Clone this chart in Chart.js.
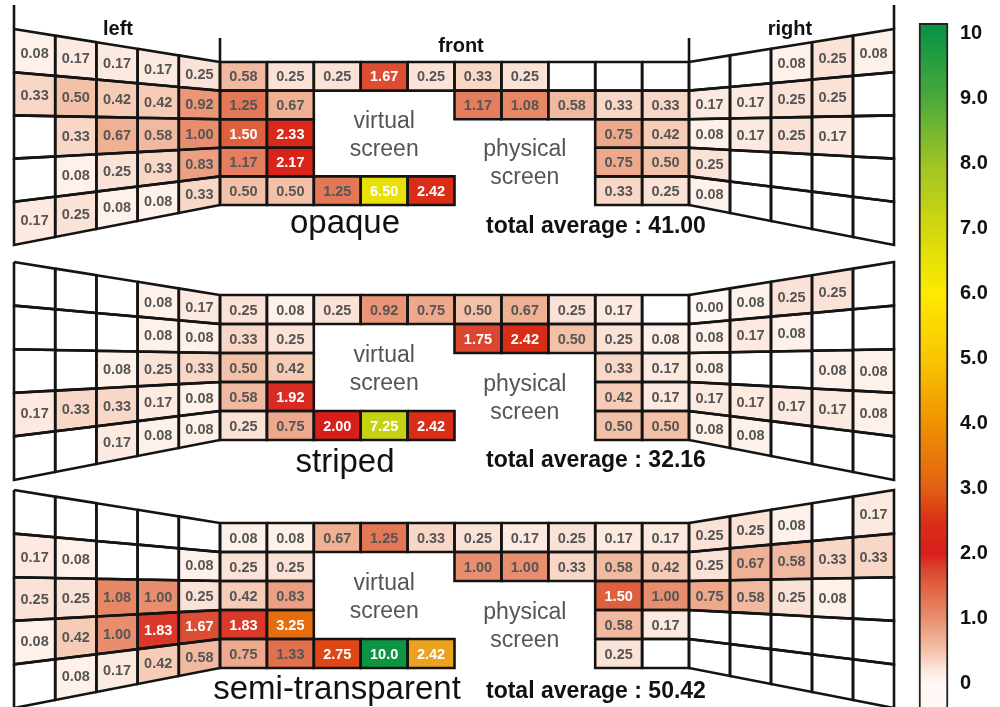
<!DOCTYPE html>
<html>
<head>
<meta charset="utf-8">
<script src="https://cdn.jsdelivr.net/npm/chart.js@4.4.1/dist/chart.umd.min.js"></script>
<style>
html,body{margin:0;padding:0;background:#fff;}
#wrap{position:relative;width:1000px;height:707px;overflow:hidden;}
#room{position:absolute;left:0;top:0;}
#bar{position:absolute;left:900px;top:0;}
</style>
</head>
<body>
<div id="wrap">
  <canvas id="room" width="1000" height="707"></canvas>
  <canvas id="bar" width="100" height="707"></canvas>
</div>
<script>
'use strict';
const _ = null;        // empty cell
const S = 'screen';    // covered by a screen

const panels = ['opaque', 'striped', 'semi-transparent'];
const totals = [41.00, 32.16, 50.42];
const wallNames = ['left', 'front', 'right'];
const screenNames = [['virtual', 'screen'], ['physical', 'screen']];
const colorTicks = [0, 1, 2, 3, 4, 5, 6, 7, 8, 9, 10];

// rows top -> bottom, columns as seen left -> right
const opaqueLeft = [
  [0.08, 0.17, 0.17, 0.17, 0.25],
  [0.33, 0.50, 0.42, 0.42, 0.92],
  [_,    0.33, 0.67, 0.58, 1.00],
  [_,    0.08, 0.25, 0.33, 0.83],
  [0.17, 0.25, 0.08, 0.08, 0.33]
];
const opaqueFront = [
  [0.58, 0.25, 0.25, 1.67, 0.25, 0.33, 0.25, _, _, _],
  [1.25, 0.67, S, S, S, 1.17, 1.08, 0.58, 0.33, 0.33],
  [1.50, 2.33, S, S, S, S, S, S, 0.75, 0.42],
  [1.17, 2.17, S, S, S, S, S, S, 0.75, 0.50],
  [0.50, 0.50, 1.25, 6.50, 2.42, S, S, S, 0.33, 0.25]
];
const opaqueRight = [
  [_,    _,    0.08, 0.25, 0.08],
  [0.17, 0.17, 0.25, 0.25, _],
  [0.08, 0.17, 0.25, 0.17, _],
  [0.25, _,    _,    _,    _],
  [0.08, _,    _,    _,    _]
];

const stripedLeft = [
  [_,    _,    _,    0.08, 0.17],
  [_,    _,    _,    0.08, 0.08],
  [_,    _,    0.08, 0.25, 0.33],
  [0.17, 0.33, 0.33, 0.17, 0.08],
  [_,    _,    0.17, 0.08, 0.08]
];
const stripedFront = [
  [0.25, 0.08, 0.25, 0.92, 0.75, 0.50, 0.67, 0.25, 0.17, _],
  [0.33, 0.25, S, S, S, 1.75, 2.42, 0.50, 0.25, 0.08],
  [0.50, 0.42, S, S, S, S, S, S, 0.33, 0.17],
  [0.58, 1.92, S, S, S, S, S, S, 0.42, 0.17],
  [0.25, 0.75, 2.00, 7.25, 2.42, S, S, S, 0.50, 0.50]
];
const stripedRight = [
  [0.00, 0.08, 0.25, 0.25, _],
  [0.08, 0.17, 0.08, _,    _],
  [0.08, _,    _,    0.08, 0.08],
  [0.17, 0.17, 0.17, 0.17, 0.08],
  [0.08, 0.08, _,    _,    _]
];

const semiLeft = [
  [_,    _,    _,    _,    _],
  [0.17, 0.08, _,    _,    0.08],
  [0.25, 0.25, 1.08, 1.00, 0.25],
  [0.08, 0.42, 1.00, 1.83, 1.67],
  [_,    0.08, 0.17, 0.42, 0.58]
];
const semiFront = [
  [0.08, 0.08, 0.67, 1.25, 0.33, 0.25, 0.17, 0.25, 0.17, 0.17],
  [0.25, 0.25, S, S, S, 1.00, 1.00, 0.33, 0.58, 0.42],
  [0.42, 0.83, S, S, S, S, S, S, 1.50, 1.00],
  [1.83, 3.25, S, S, S, S, S, S, 0.58, 0.17],
  [0.75, 1.33, 2.75, 10.0, 2.42, S, S, S, 0.25, _]
];
const semiRight = [
  [0.25, 0.25, 0.08, _,    0.17],
  [0.25, 0.67, 0.58, 0.33, 0.33],
  [0.75, 0.58, 0.25, 0.08, _],
  [_,    _,    _,    _,    _],
  [_,    _,    _,    _,    _]
];

const panelWalls = [
  [opaqueLeft, opaqueFront, opaqueRight],
  [stripedLeft, stripedFront, stripedRight],
  [semiLeft, semiFront, semiRight]
];

// ---- layout (reference pixel space) ----
const FRONT_X = [220, 689];
const LEFT_X = [14, 220];
const RIGHT_X = [689, 894];
const FRONT_Y = [[62, 205], [295, 440], [523, 668]];
const RISE = 33, DROP = 40;
const VS = {c0: 2, c1: 5, r0: 1, r1: 4};
const PS = {c0: 5, c1: 8, r0: 2, r1: 5};
const TITLE_X = [345, 345, 337];
const TITLE_Y = [233, 472, 699];
const TOTAL_X = 486;
const TOTAL_Y = [233, 467, 698];
const FONT = '"Liberation Sans", Arial, sans-serif';

// ---- colour scale ----
const cmapStops = [
  [0, '#fff8f4'], [0.25, '#fbe2d6'], [0.5, '#f3c1a8'], [1, '#e88e6e'],
  [1.5, '#df603e'], [1.75, '#db4630'], [2, '#d81e1a'], [2.5, '#da3018'],
  [3, '#e36013'], [4, '#ef9200'], [5, '#f9c600'], [6, '#fdea00'],
  [7, '#d2d70e'], [8, '#9dc424'], [9, '#4aa93a'], [10, '#0d9543']
];
const cellColorOverride = {'2/front/4/4': '#eca21f'};

function hex(c){ return [1,3,5].map(i => parseInt(c.slice(i, i+2), 16)); }
function cmap(v){
  v = Math.max(0, Math.min(10, v));
  for(let i=1;i<cmapStops.length;i++){
    const [v1, c1] = cmapStops[i];
    if(v <= v1){
      const [v0, c0] = cmapStops[i-1];
      const t = (v - v0) / (v1 - v0);
      const a = hex(c0), b = hex(c1);
      return 'rgb(' + a.map((x,k) => Math.round(x + (b[k]-x)*t)).join(',') + ')';
    }
  }
  return cmapStops[cmapStops.length-1][1];
}

function wallGeom(p, w){
  const [t, b] = FRONT_Y[p];
  if(w === 0) return {xs: LEFT_X, eL: [t-RISE, b+DROP], eR: [t, b], cols: 5};
  if(w === 2) return {xs: RIGHT_X, eL: [t, b], eR: [t-RISE, b+DROP], cols: 5};
  return {xs: FRONT_X, eL: [t, b], eR: [t, b], cols: 10};
}
function gp(g, u, v){
  const k = u / g.cols;
  const top = g.eL[0] + (g.eR[0]-g.eL[0])*k;
  const bot = g.eL[1] + (g.eR[1]-g.eL[1])*k;
  return {x: g.xs[0] + (g.xs[1]-g.xs[0])*k, y: top + (bot-top)*v/5};
}

const cells = [];
panelWalls.forEach((walls, p) => {
  walls.forEach((grid, w) => {
    const g = wallGeom(p, w);
    grid.forEach((row, r) => row.forEach((val, c) => {
      if(val === S) return;
      const color = val === null ? '#ffffff'
        : (cellColorOverride[p+'/'+wallNames[w]+'/'+r+'/'+c] || cmap(val));
      cells.push({
        value: val, color,
        pts: [gp(g,c,r), gp(g,c+1,r), gp(g,c+1,r+1), gp(g,c,r+1), gp(g,c,r)],
        center: gp(g, c+0.5, r+0.5)
      });
    }));
  });
});

const datasets = cells.map(cell => ({
  data: cell.pts,
  showLine: true,
  fill: 'shape',
  backgroundColor: cell.color,
  borderColor: '#141414',
  borderWidth: 2.6,
  borderJoinStyle: 'miter',
  pointRadius: 0,
  pointHoverRadius: 0
}));
// room corner lines above the first panel
const t0 = FRONT_Y[0][0];
[[LEFT_X[0], 5, t0-RISE], [FRONT_X[0], 38, t0], [FRONT_X[1], 38, t0], [RIGHT_X[1], 5, t0-RISE]]
  .forEach(([x, y0, y1]) => datasets.push({
    data: [{x, y: y0}, {x, y: y1}], showLine: true, fill: false,
    borderColor: '#141414', borderWidth: 2.6, pointRadius: 0
  }));

const labelPlugin = {
  id: 'labels',
  afterDatasetsDraw(chart){
    const {ctx, scales: {x, y}} = chart;
    const X = v => x.getPixelForValue(v), Y = v => y.getPixelForValue(v);
    ctx.save();
    ctx.textAlign = 'center';
    ctx.textBaseline = 'middle';
    ctx.font = 'bold 14.5px ' + FONT;
    cells.forEach(cell => {
      if(cell.value === null) return;
      ctx.fillStyle = cell.value >= 1.4 ? '#ffffff' : '#555555';
      const txt = cell.value >= 10 ? cell.value.toFixed(1) : cell.value.toFixed(2);
      ctx.fillText(txt, X(cell.center.x), Y(cell.center.y) + 1);
    });

    ctx.textBaseline = 'alphabetic';
    // wall names
    ctx.fillStyle = '#111';
    ctx.font = 'bold 20px ' + FONT;
    ctx.fillText(wallNames[0], X(118), Y(35));
    ctx.fillText(wallNames[1], X(461), Y(52));
    ctx.fillText(wallNames[2], X(790), Y(35));

    panels.forEach((name, p) => {
      const g = wallGeom(p, 1);
      // screens
      ctx.fillStyle = '#555';
      ctx.font = '23px ' + FONT;
      [VS, PS].forEach((s, i) => {
        const a = gp(g, s.c0, s.r0), b = gp(g, s.c1, s.r1);
        const cx = (a.x + b.x) / 2, cy = (a.y + b.y) / 2;
        ctx.fillText(screenNames[i][0], X(cx), Y(cy - 6));
        ctx.fillText(screenNames[i][1], X(cx), Y(cy + 22));
      });
      ctx.fillStyle = '#111';
      ctx.textAlign = 'center';
      ctx.font = '33px ' + FONT;
      ctx.fillText(name, X(TITLE_X[p]), Y(TITLE_Y[p]));
      ctx.textAlign = 'left';
      ctx.font = 'bold 23px ' + FONT;
      ctx.fillText('total average : ' + totals[p].toFixed(2), X(TOTAL_X), Y(TOTAL_Y[p]));
      ctx.textAlign = 'center';
    });
    ctx.restore();
  }
};

new Chart(document.getElementById('room'), {
  type: 'scatter',
  data: {datasets},
  plugins: [labelPlugin],
  options: {
    responsive: false,
    animation: false,
    events: [],
    layout: {padding: 0},
    plugins: {
      legend: {display: false},
      tooltip: {enabled: false},
      filler: {drawTime: 'beforeDatasetsDraw'}
    },
    scales: {
      x: {type: 'linear', min: 0, max: 1000, display: false},
      y: {type: 'linear', min: 0, max: 707, reverse: true, display: false}
    }
  }
});

// colour bar
new Chart(document.getElementById('bar'), {
  type: 'bar',
  data: {
    labels: [''],
    datasets: [{
      data: [[-0.4, 10.15]],
      backgroundColor(c){
        const {ctx, chartArea, scales} = c.chart;
        if(!chartArea) return '#fff';
        const y0 = scales.y.getPixelForValue(0), y1 = scales.y.getPixelForValue(10);
        const grad = ctx.createLinearGradient(0, y0, 0, y1);
        for(let v = 0; v <= 10; v += 0.25) grad.addColorStop(v/10, cmap(v));
        return grad;
      },
      borderColor: '#222',
      borderWidth: 2,
      borderSkipped: false,
      barPercentage: 1,
      categoryPercentage: 1,
      clip: false
    }]
  },
  options: {
    responsive: false,
    animation: false,
    events: [],
    layout: {padding: {left: 19, right: 0, top: 33, bottom: 9}},
    plugins: {legend: {display: false}, tooltip: {enabled: false}},
    scales: {
      x: {display: false},
      y: {
        position: 'right',
        min: colorTicks[0],
        max: colorTicks[colorTicks.length-1],
        grid: {display: false, drawTicks: false},
        border: {display: false},
        afterFit(s){ s.width = 52; },
        afterBuildTicks(s){ s.ticks = colorTicks.map(v => ({value: v})); },
        ticks: {
          padding: 12,
          color: '#111',
          font: {size: 20, weight: 'bold', family: FONT},
          callback: v => (v === 0 || v === 10) ? String(v) : v.toFixed(1)
        }
      }
    }
  }
});
</script>
</body>
</html>
